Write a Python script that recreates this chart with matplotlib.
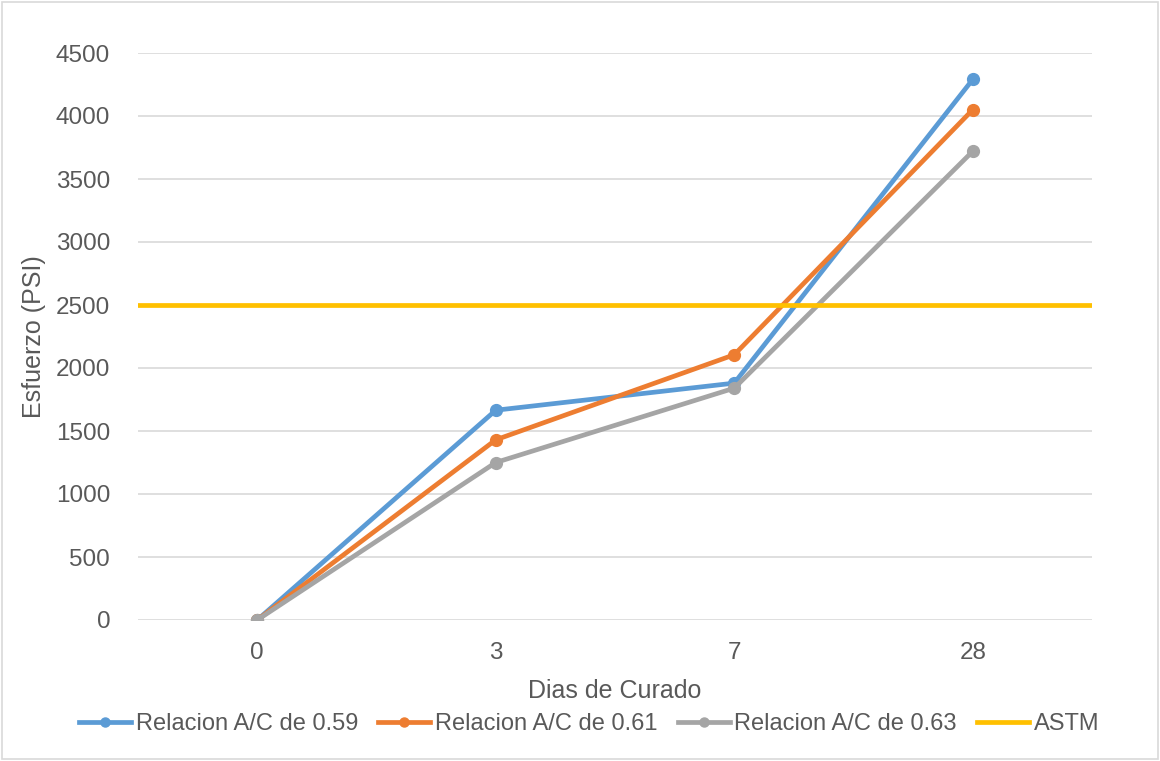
import matplotlib
matplotlib.use("Agg")
import matplotlib.pyplot as plt
from matplotlib.lines import Line2D
from matplotlib.patches import Rectangle

plt.rcParams['font.family'] = ['Liberation Sans', 'DejaVu Sans']

categories = ['0', '3', '7', '28']
s059 = [0, 1665, 1880, 4290]
s061 = [0, 1430, 2105, 4050]
s063 = [0, 1250, 1840, 3720]
astm = 2500
series_names = ['Relacion A/C de 0.59', 'Relacion A/C de 0.61', 'Relacion A/C de 0.63', 'ASTM']
colors = ['#5B9BD5', '#ED7D31', '#A5A5A5', '#FFC000']
text_color = '#595959'

W, H = 1160, 761
fig = plt.figure(figsize=(W/100, H/100), dpi=100)
fig.patches.append(Rectangle((2/W, 2/H), 1-4/W, 1-4/H, transform=fig.transFigure,
                             fill=False, edgecolor='#D9D9D9', linewidth=1.2))
ax = fig.add_axes([138/W, 1-620/H, (1092-138)/W, (620-53)/H])

x = list(range(len(categories)))
handles = []
for vals, c, name in zip([s059, s061, s063], colors[:3], series_names[:3]):
    ax.plot(x, vals, color=c, lw=3.4, marker='o', ms=8.5, zorder=3,
            solid_capstyle='round')
    handles.append(Line2D([], [], color=c, lw=3.4, marker='o', ms=6.5, label=name))
ax.axhline(astm, color=colors[3], lw=3.4, zorder=4)
handles.append(Line2D([], [], color=colors[3], lw=3.4, label=series_names[3]))

ax.set_xlim(-0.5, len(categories) - 0.5)
ax.set_ylim(0, 4500)
ax.set_yticks(range(0, 4501, 500))
ax.set_xticks(x)
ax.set_xticklabels(categories)
ax.grid(axis='y', color='#D9D9D9', lw=1.2, zorder=0)
for s in ax.spines.values():
    s.set_visible(False)
ax.tick_params(length=0, labelsize=17.5, colors=text_color)
ax.tick_params(axis='y', pad=20)
ax.tick_params(axis='x', pad=16)
ax.set_xlabel('Dias de Curado', fontsize=18, color=text_color, labelpad=11)
ax.set_ylabel('Esfuerzo (PSI)', fontsize=18, color=text_color, labelpad=7)

fig.legend(handles=handles, loc='center', bbox_to_anchor=(0.508, 1-724/H), ncol=4,
           frameon=False, fontsize=17, labelcolor=text_color, handlelength=2.2,
           handletextpad=0.2, columnspacing=0.85, borderpad=0)

fig.savefig('out.png', dpi=100)
